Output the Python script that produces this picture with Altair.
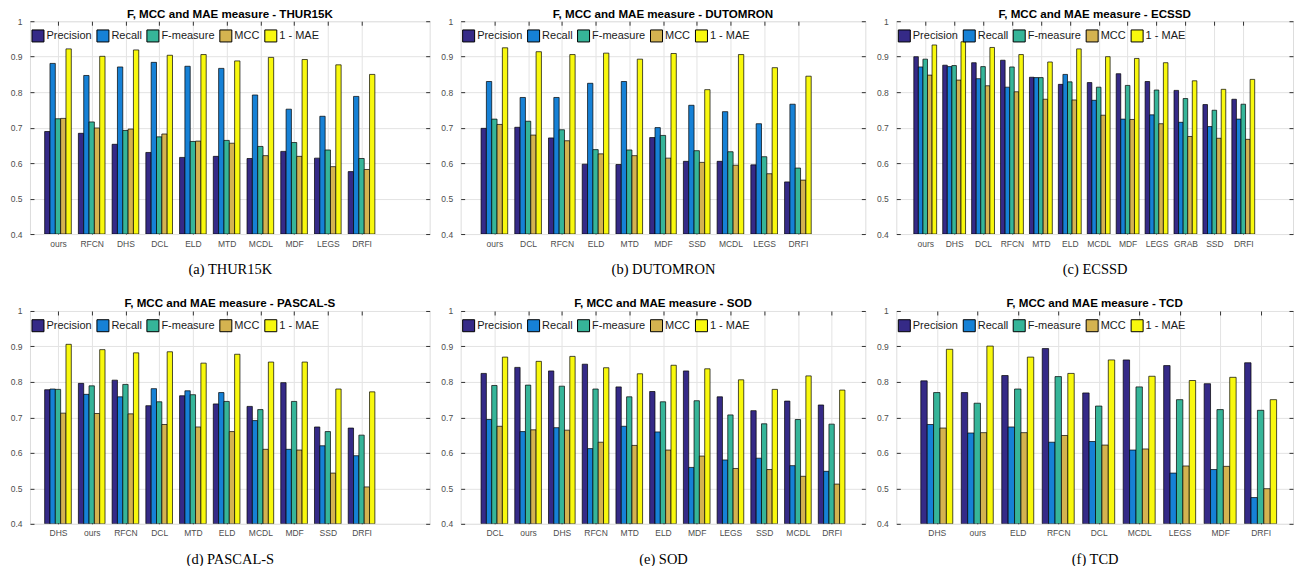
import altair as alt
import pandas as pd

SERIES = ["Precision", "Recall", "F-measure", "MCC", "1 - MAE"]
COLORS = ["#352a87", "#1681d6", "#36b599", "#d4b350", "#f8f80e"]

# (a) THUR15K
thur_methods = ["ours", "RFCN", "DHS", "DCL", "ELD", "MTD", "MCDL", "MDF", "LEGS", "DRFI"]
thur_precision = [0.689, 0.684, 0.653, 0.630, 0.616, 0.619, 0.613, 0.633, 0.614, 0.576]
thur_recall = [0.881, 0.847, 0.871, 0.884, 0.873, 0.867, 0.792, 0.752, 0.732, 0.788]
thur_fmeasure = [0.725, 0.716, 0.692, 0.674, 0.661, 0.664, 0.647, 0.658, 0.637, 0.613]
thur_mcc = [0.726, 0.699, 0.696, 0.682, 0.662, 0.656, 0.621, 0.619, 0.590, 0.582]
thur_mae = [0.922, 0.901, 0.919, 0.904, 0.906, 0.888, 0.898, 0.892, 0.877, 0.850]

# (b) DUTOMRON
duto_methods = ["ours", "DCL", "RFCN", "ELD", "MTD", "MDF", "SSD", "MCDL", "LEGS", "DRFI"]
duto_precision = [0.698, 0.701, 0.671, 0.597, 0.596, 0.672, 0.605, 0.605, 0.595, 0.547]
duto_recall = [0.830, 0.785, 0.785, 0.825, 0.830, 0.700, 0.763, 0.745, 0.711, 0.766]
duto_fmeasure = [0.724, 0.718, 0.694, 0.638, 0.637, 0.678, 0.635, 0.632, 0.618, 0.586]
duto_mcc = [0.709, 0.679, 0.663, 0.626, 0.621, 0.614, 0.602, 0.594, 0.570, 0.552]
duto_mae = [0.925, 0.914, 0.906, 0.910, 0.893, 0.909, 0.807, 0.906, 0.869, 0.845]

# (c) ECSSD
ecssd_methods = ["ours", "DHS", "DCL", "RFCN", "MTD", "ELD", "MCDL", "MDF", "LEGS", "GRAB", "SSD", "DRFI"]
ecssd_precision = [0.900, 0.876, 0.883, 0.890, 0.842, 0.822, 0.827, 0.852, 0.830, 0.805, 0.765, 0.780]
ecssd_recall = [0.871, 0.872, 0.838, 0.814, 0.841, 0.850, 0.777, 0.724, 0.736, 0.715, 0.703, 0.724]
ecssd_fmeasure = [0.893, 0.875, 0.872, 0.871, 0.841, 0.829, 0.814, 0.819, 0.806, 0.782, 0.749, 0.766]
ecssd_mcc = [0.848, 0.834, 0.818, 0.801, 0.780, 0.778, 0.735, 0.723, 0.711, 0.675, 0.670, 0.667]
ecssd_mae = [0.933, 0.942, 0.926, 0.906, 0.885, 0.922, 0.900, 0.895, 0.883, 0.832, 0.808, 0.836]

# (d) PASCAL-S
pascal_methods = ["DHS", "ours", "RFCN", "DCL", "MTD", "ELD", "MCDL", "MDF", "SSD", "DRFI"]
pascal_precision = [0.778, 0.796, 0.805, 0.733, 0.761, 0.738, 0.731, 0.798, 0.673, 0.670]
pascal_recall = [0.780, 0.765, 0.758, 0.781, 0.775, 0.770, 0.691, 0.610, 0.620, 0.592]
pascal_fmeasure = [0.779, 0.789, 0.793, 0.744, 0.764, 0.745, 0.722, 0.745, 0.660, 0.650]
pascal_mcc = [0.712, 0.711, 0.710, 0.680, 0.673, 0.660, 0.610, 0.608, 0.543, 0.504]
pascal_mae = [0.906, 0.891, 0.882, 0.885, 0.853, 0.878, 0.856, 0.856, 0.780, 0.772]

# (e) SOD
sod_methods = ["DCL", "ours", "DHS", "RFCN", "MTD", "ELD", "MDF", "LEGS", "SSD", "MCDL", "DRFI"]
sod_precision = [0.824, 0.841, 0.831, 0.850, 0.786, 0.773, 0.831, 0.758, 0.719, 0.746, 0.735]
sod_recall = [0.694, 0.660, 0.671, 0.612, 0.675, 0.659, 0.559, 0.580, 0.585, 0.564, 0.548]
sod_fmeasure = [0.790, 0.791, 0.788, 0.780, 0.758, 0.744, 0.747, 0.707, 0.682, 0.694, 0.681]
sod_mcc = [0.675, 0.665, 0.664, 0.630, 0.621, 0.608, 0.591, 0.556, 0.553, 0.534, 0.512]
sod_mae = [0.870, 0.858, 0.872, 0.840, 0.823, 0.847, 0.837, 0.806, 0.779, 0.817, 0.777]

# (f) TCD
tcd_methods = ["DHS", "ours", "ELD", "RFCN", "DCL", "MCDL", "LEGS", "MDF", "DRFI"]
tcd_precision = [0.803, 0.770, 0.818, 0.894, 0.769, 0.862, 0.846, 0.795, 0.854]
tcd_recall = [0.680, 0.656, 0.673, 0.630, 0.632, 0.608, 0.543, 0.553, 0.474]
tcd_fmeasure = [0.770, 0.740, 0.780, 0.815, 0.732, 0.786, 0.750, 0.722, 0.720]
tcd_mcc = [0.670, 0.657, 0.657, 0.649, 0.622, 0.611, 0.563, 0.562, 0.499]
tcd_mae = [0.892, 0.901, 0.870, 0.824, 0.862, 0.816, 0.804, 0.813, 0.750]

PANELS = [
    ("THUR15K", "(a) THUR15K", thur_methods,
     [thur_precision, thur_recall, thur_fmeasure, thur_mcc, thur_mae], [0.17, 12.02], 400),
    ("DUTOMRON", "(b) DUTOMRON", duto_methods,
     [duto_precision, duto_recall, duto_fmeasure, duto_mcc, duto_mae], [0, 12], 405),
    ("ECSSD", "(c) ECSSD", ecssd_methods,
     [ecssd_precision, ecssd_recall, ecssd_fmeasure, ecssd_mcc, ecssd_mae], [0, 13.72], 397),
    ("PASCAL-S", "(d) PASCAL-S", pascal_methods,
     [pascal_precision, pascal_recall, pascal_fmeasure, pascal_mcc, pascal_mae], [0.17, 12.02], 400),
    ("SOD", "(e) SOD", sod_methods,
     [sod_precision, sod_recall, sod_fmeasure, sod_mcc, sod_mae], [0, 12], 405),
    ("TCD", "(f) TCD", tcd_methods,
     [tcd_precision, tcd_recall, tcd_fmeasure, tcd_mcc, tcd_mae], [0, 9.8], 397),
]

Y_TICKS = [0.4, 0.5, 0.6, 0.7, 0.8, 0.9, 1.0]
BW = 0.158  # width of one bar in group units
GRID = "#e3e3e3"
TICK = "#333333"
TL = 4  # inward tick length


def make_panel(name, caption, methods, values, xdom, width):
    rows = []
    for i, m in enumerate(methods):
        for k, s in enumerate(SERIES):
            rows.append({"method": m, "i": i + 1, "k": k, "series": s, "value": values[k][i]})
    df = pd.DataFrame(rows)
    label_expr = "[" + ",".join("'%s'" % m for m in methods) + "][datum.value - 1]"
    x_vals = list(range(1, len(methods) + 1))
    xscale = alt.Scale(domain=xdom, nice=False, zero=False)
    yscale = alt.Scale(domain=[0.4, 1.0], nice=False, zero=False)

    base = alt.Chart(df).transform_calculate(
        x0="datum.i + (datum.k - 2.5) * %f" % BW,
        x1="datum.i + (datum.k - 1.5) * %f" % BW,
    )

    bars = base.mark_bar(stroke="black", strokeWidth=0.7, clip=True, opacity=1).encode(
        x=alt.X(
            "x0:Q",
            scale=xscale,
            axis=alt.Axis(
                values=x_vals,
                labelExpr=label_expr,
                title=caption,
                titleFont="Liberation Serif",
                titleFontSize=14.5,
                titleFontWeight="normal",
                titleColor="#000000",
                titlePadding=15,
                labelFont="Liberation Sans",
                labelFontSize=8.5,
                labelColor="#4d4d4d",
                labelPadding=5,
                labelAngle=0,
                ticks=True,
                tickSize=TL,
                tickColor=TICK,
                offset=-TL,
                domain=False,
                grid=True,
                gridColor=GRID,
                labelFlush=False,
                labelOverlap=False,
            ),
        ),
        x2="x1:Q",
        y=alt.Y(
            "value:Q",
            scale=yscale,
            axis=alt.Axis(
                values=Y_TICKS,
                format="~g",
                title=None,
                labelFont="Liberation Sans",
                labelFontSize=8.5,
                labelColor="#4d4d4d",
                labelPadding=8,
                ticks=True,
                tickSize=TL,
                tickColor=TICK,
                offset=-TL,
                domain=False,
                grid=True,
                gridColor=GRID,
            ),
        ),
        y2=alt.datum(0.4),
        color=alt.Color(
            "series:N",
            scale=alt.Scale(domain=SERIES, range=COLORS),
            legend=alt.Legend(
                title=None,
                orient="none",
                legendX=1.5,
                legendY=8,
                direction="horizontal",
                symbolType="square",
                symbolSize=144,
                symbolStrokeColor="black",
                symbolStrokeWidth=1,
                symbolOpacity=1,
                labelFont="Liberation Sans",
                labelFontSize=11,
                labelColor="#1a1a1a",
                labelOffset=2,
                columnPadding=2,
                padding=0,
            ),
        ),
    )

    frame_ticks = base.mark_bar(opacity=0).encode(
        x=alt.X(
            "x0:Q",
            scale=xscale,
            axis=alt.Axis(
                orient="top", values=x_vals, labels=False, title=None,
                ticks=True, tickSize=TL, tickColor=TICK, offset=-TL,
                domain=False, grid=False,
            ),
        ),
        x2="x1:Q",
        y=alt.Y(
            "value:Q",
            scale=yscale,
            axis=alt.Axis(
                orient="right", values=Y_TICKS, labels=False, title=None,
                ticks=True, tickSize=TL, tickColor=TICK, offset=-TL,
                domain=False, grid=False,
            ),
        ),
        y2=alt.datum(0.4),
    )

    return (
        alt.layer(bars, frame_ticks)
        .resolve_axis(x="independent", y="independent")
        .properties(
            width=width,
            height=213,
            title=alt.TitleParams(
                "F, MCC and MAE measure - " + name,
                font="Liberation Sans",
                fontSize=11.6,
                fontWeight="bold",
                color="#000000",
                offset=-12,
                baseline="alphabetic",
                anchor="middle",
                frame="group",
            ),
        )
    )


charts = [make_panel(*p) for p in PANELS]

chart = (
    alt.concat(*charts, columns=3, spacing={"row": 77, "column": 31}, bounds="flush", align="each")
    .resolve_scale(x="independent", color="independent")
    .resolve_legend(color="independent")
    .properties(padding={"left": 1, "top": -1, "right": 0, "bottom": -1})
    .configure_view(stroke="#333333", strokeWidth=1)
    .configure(background="white")
)

chart.save("out.html", embed_options={"renderer": "svg", "actions": False})
